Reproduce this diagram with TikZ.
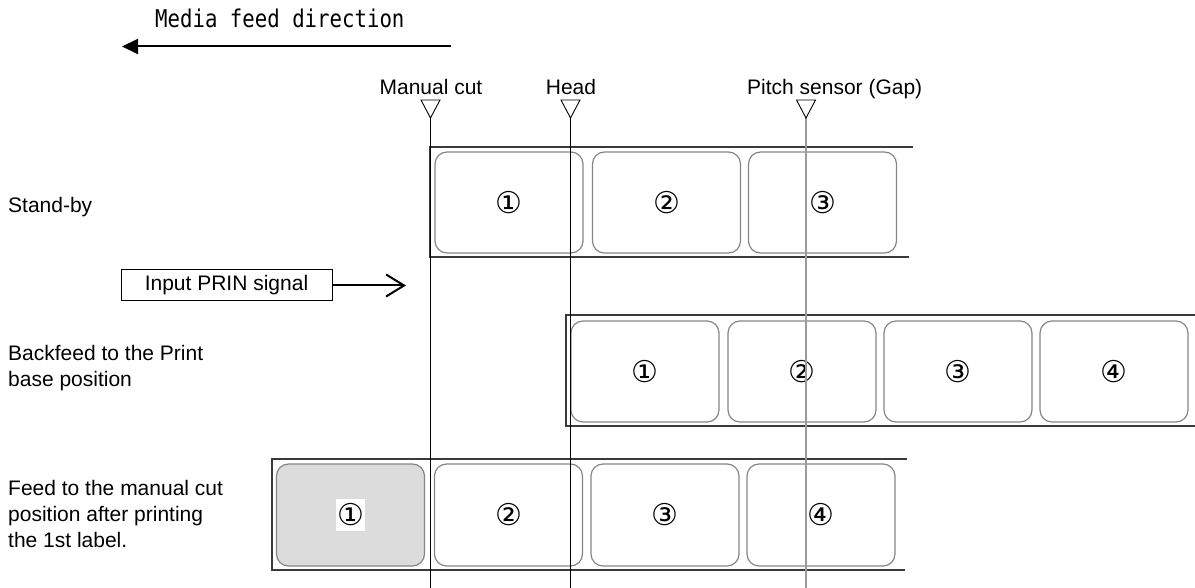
\documentclass[tikz,border=0pt]{standalone}
\usepackage{fontspec}
\setmainfont{Liberation Sans}
\newfontfamily\circfont{DejaVu Sans}
\newfontfamily\titlefont{DejaVu Sans Mono}
\usetikzlibrary{arrows.meta}
\definecolor{lblgray}{HTML}{858585}
\definecolor{stripgray}{HTML}{3A3A3A}
\definecolor{fillgray}{HTML}{DCDCDC}
\definecolor{pitchgray}{HTML}{9A9A9A}
\begin{document}
\begin{tikzpicture}[x=1pt,y=-1pt,
  txt/.style={font=\fontsize{21}{26}\selectfont, inner sep=0pt},
  lbl/.style={draw=lblgray, line width=1.2pt, rounded corners=12pt,
    minimum width=148pt, minimum height=101pt, inner sep=0pt,
    font=\circfont\fontsize{30}{30}\selectfont},
  strip/.style={draw=stripgray, line width=1.6pt},
  marker/.style={draw=black, fill=white, line width=0.9pt, line join=miter},
  guide/.style={line width=1pt},
]
\useasboundingbox (0,0) rectangle (1195,588);

% title and feed direction arrow
\node[inner sep=0pt, anchor=base west, font=\titlefont\fontsize{20.7}{24}\selectfont] (title) at (155,28) {\scalebox{1}[1.18]{Media feed direction}};
\coordinate (fa1) at (451,46.5);
\coordinate (fa2) at (122,46.5);
\draw[line width=2pt, -{Triangle[length=16pt,width=15pt]}] (fa1) -- (fa2);

% row labels
\node[txt, anchor=base west] (standby) at (8,213) {Stand-by};
\node[txt, anchor=base west] (bf1) at (8,360) {Backfeed to the Print};
\node[txt, anchor=base west] (bf2) at (8,386) {base position};
\node[txt, anchor=base west] (fd1) at (8,495) {Feed to the manual cut};
\node[txt, anchor=base west] (fd2) at (8,521) {position after printing};
\node[txt, anchor=base west] (fd3) at (8,547) {the 1st label.};

% input signal
\node[txt, draw, line width=1pt, minimum width=211pt, minimum height=31pt] (prin) at (226.5,285.5) {Input PRIN signal};
\coordinate (prinend) at (406,285.5);
\draw[line width=2pt, -{Straight Barb[length=18pt,width=22pt,line width=2pt]}] (prin.east) -- (prinend);

% row 1: stand-by
\coordinate (s1a) at (430,147);
\coordinate (s1b) at (913,147);
\coordinate (s1c) at (430,257);
\coordinate (s1d) at (909,257);
\draw[strip] (s1b) -- (s1a) -- (s1c) -- (s1d);
\node[lbl] (r1l1) at (509,202.5) {①};
\node[lbl] (r1l2) at (666.5,202.5) {②};
\node[lbl] (r1l3) at (822.5,202.5) {③};

% row 2: backfeed
\coordinate (s2a) at (566,315);
\coordinate (s2b) at (1196,315);
\coordinate (s2c) at (566,426);
\coordinate (s2d) at (1196,426);
\draw[strip] (s2b) -- (s2a) -- (s2c) -- (s2d);
\node[lbl] (r2l1) at (645,371.5) {①};
\node[lbl] (r2l2) at (802,371.5) {②};
\node[lbl] (r2l3) at (958,371.5) {③};
\node[lbl] (r2l4) at (1114,371.5) {④};

% row 3: feed to manual cut
\coordinate (s3a) at (272,459);
\coordinate (s3b) at (907,459);
\coordinate (s3c) at (272,570);
\coordinate (s3d) at (905,570);
\draw[strip] (s3b) -- (s3a) -- (s3c) -- (s3d);
\node[lbl, fill=fillgray, minimum height=102pt] (r3l1) at (350.5,515) {};
\node[fill=white, inner sep=0pt, minimum width=29pt, minimum height=32pt,
  font=\circfont\fontsize{30}{30}\selectfont] (r3n1) at (r3l1.center) {①};
\node[lbl, minimum height=102pt] (r3l2) at (508.5,515) {②};
\node[lbl, minimum height=102pt] (r3l3) at (665,515) {③};
\node[lbl, minimum height=102pt] (r3l4) at (821,515) {④};

% position markers and guide lines
\node[txt, anchor=base] (mclbl) at (431,95) {Manual cut};
\node[txt, anchor=base] (hdlbl) at (571,95) {Head};
\node[txt, anchor=base west] (pslbl) at (747,95) {Pitch sensor (Gap)};

\coordinate (mc) at (430.5,118);
\coordinate (hd) at (570.5,118);
\coordinate (ps) at (806,118);
\coordinate (mcend) at (430.5,588);
\coordinate (hdend) at (570.5,588);
\coordinate (psend) at (806,588);

\draw[guide] (mc) -- (mcend);
\draw[guide] (hd) -- (hdend);
\draw[guide, draw=pitchgray, line width=1.3pt] (ps) -- (psend);

\draw[marker] (mc) -- ++(-9.5,-18) -- ++(19,0) -- cycle;
\draw[marker] (hd) -- ++(-9.5,-18) -- ++(19,0) -- cycle;
\draw[marker] (ps) -- ++(-9.5,-18) -- ++(19,0) -- cycle;
\end{tikzpicture}
\end{document}
